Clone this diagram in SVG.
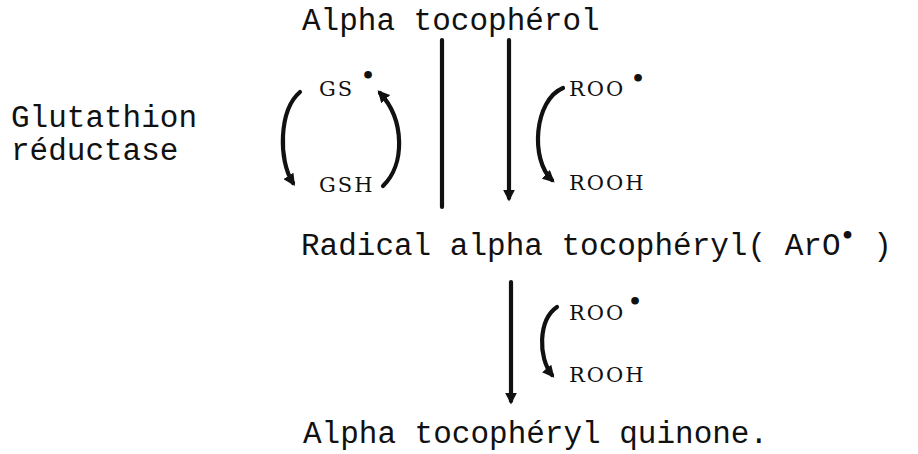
<svg xmlns="http://www.w3.org/2000/svg" width="918" height="454" viewBox="0 0 918 454">
<defs>
<style>
.t{font-family:"Liberation Mono","Courier New",monospace;font-size:31px;fill:#111}
.s{font-family:"DejaVu Serif","Liberation Serif",serif;font-size:21px;letter-spacing:2px;fill:#111}
.d{font-family:"DejaVu Sans",sans-serif;font-size:22px;font-weight:bold;fill:#111}
.c{fill:none;stroke:#111;stroke-width:4.2;stroke-linecap:round}
</style>
<marker id="ah" viewBox="0 0 10 10" refX="7" refY="5" markerWidth="12" markerHeight="12" markerUnits="userSpaceOnUse" orient="auto">
<path d="M0,0 L10,5 L0,10 z" fill="#111"/>
</marker>
</defs>
<rect width="918" height="454" fill="#fff"/>
<g id="alpha-tocopherol"><text class="t" x="302" y="30">Alpha tocophérol</text></g>
<g id="glutathion-reductase"><text class="t" x="11" y="127">Glutathion</text><text class="t" x="11" y="160">réductase</text></g>
<g id="gs-radical"><text class="s" x="319" y="96">GS</text><text class="d" x="361" y="83">•</text></g>
<g id="gsh"><text class="s" x="319" y="192">GSH</text></g>
<g id="roo-1"><text class="s" x="569" y="96">ROO</text><text class="d" x="631" y="86">•</text></g>
<g id="rooh-1"><text class="s" x="569" y="190">ROOH</text></g>
<g id="radical"><text class="t" x="301" y="255">Radical alpha tocophéryl( ArO<tspan class="d" dy="-12">•</tspan><tspan dy="12"> )</tspan></text></g>
<g id="roo-2"><text class="s" x="569" y="320">ROO</text><text class="d" x="628" y="309">•</text></g>
<g id="rooh-2"><text class="s" x="569" y="382">ROOH</text></g>
<g id="quinone"><text class="t" x="303" y="443">Alpha tocophéryl quinone.</text></g>
<g id="connectors">
<path class="c" d="M442 40 L442 207"/>
<path class="c" d="M509 40 L509 198" marker-end="url(#ah)"/>
<path class="c" d="M511 282 L511 401" marker-end="url(#ah)"/>
<path class="c" d="M300 92 C279 110 278 160 293 183" marker-end="url(#ah)"/>
<path class="c" d="M383 186 C405 165 405 120 380 93" marker-end="url(#ah)"/>
<path class="c" d="M563 88 C534 100 530 160 552 180" marker-end="url(#ah)"/>
<path class="c" d="M557 307 C538 320 538 358 552 375" marker-end="url(#ah)"/>
</g>
</svg>
